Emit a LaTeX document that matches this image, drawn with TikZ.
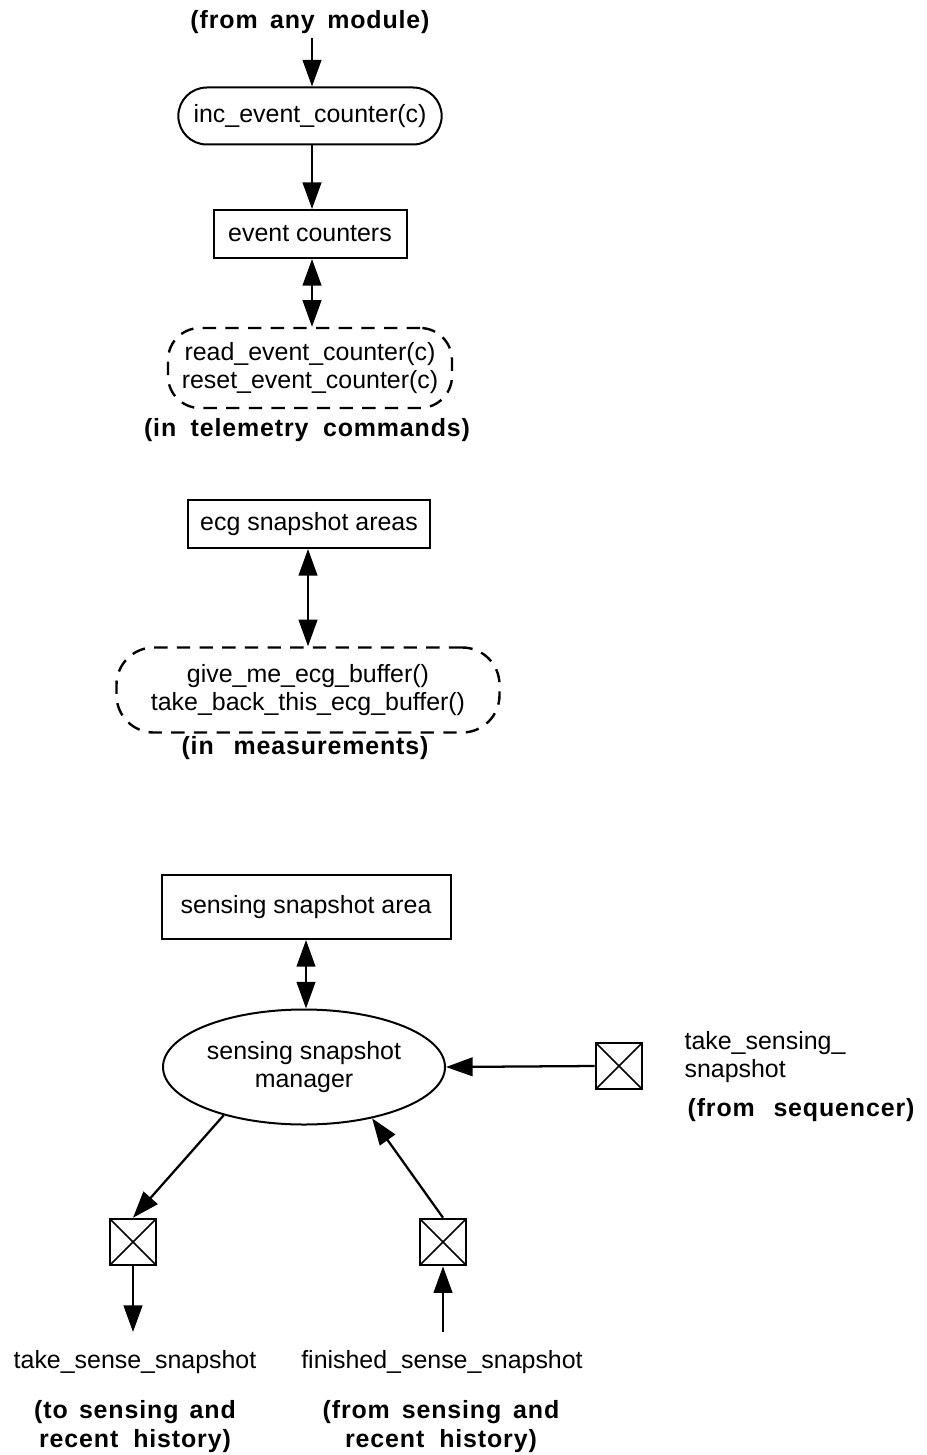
\documentclass[tikz,border=0pt]{standalone}
\usepackage{fontspec}
\setmainfont{Liberation Sans}
\newfontfamily\lblfont[LetterSpace=3.5]{Liberation Sans Bold}
\usetikzlibrary{arrows.meta,shapes.misc,shapes.geometric}
\newcommand\wsp[1]{\hspace{#1em}}
\begin{document}
\begin{tikzpicture}[x=0.75pt,y=-0.75pt,
  every node/.style={font=\fontsize{18.7pt}{21pt}\selectfont, inner sep=1pt},
  lbl/.style={font=\fontsize{18.7pt}{21.75pt}\selectfont\lblfont, align=center},
  txt/.style={align=center},
  store/.style={draw, line width=1.5pt, rectangle, minimum height=36pt},
  proc/.style={draw, line width=1.5pt, rounded rectangle, minimum width=199.5pt, minimum height=42.75pt},
  iface/.style={draw, line width=1.8pt, dash pattern=on 10pt off 7pt, rectangle, rounded corners=24pt, align=center},
  crossbox/.style={draw, line width=1.4pt, rectangle, minimum width=35pt, minimum height=35pt, inner sep=0pt,
    path picture={\draw[line width=1.1pt] (path picture bounding box.north west) -- (path picture bounding box.south east)
      (path picture bounding box.north east) -- (path picture bounding box.south west);}},
  flow/.style={line width=1.7pt, -{Triangle[length=20pt,width=14pt]}},
  bidir/.style={line width=1.7pt, {Triangle[length=20pt,width=14pt]}-{Triangle[length=20pt,width=14pt]}}
]
\useasboundingbox[fill=white] (0,0) rectangle (926,1455);

% event counter part
\node[lbl] (src) at (310,22) {(from\wsp{0.5}any\wsp{0.5}module)};
\node[proc] (inc) at (310,116) {inc\_event\_counter(c)};
\node[store, minimum width=144.75pt] (evt) at (310,234) {event counters};
\node[iface, minimum width=213pt, minimum height=60pt] (tele) at (310,368)
  {read\_event\_counter(c)\\reset\_event\_counter(c)};
\node[lbl] (telelbl) at (307,430) {(in\wsp{0.58}telemetry\wsp{0.58}commands)};

\coordinate (srcend) at (312,38);
\draw[flow] (srcend) -- (inc.north -| srcend);
\draw[flow] (inc.south -| srcend) -- (evt.north -| srcend);
\draw[bidir] (evt.south -| srcend) -- (tele.north -| srcend);

% ecg snapshot part
\node[store, minimum width=181.5pt] (ecg) at (309,524) {ecg snapshot areas};
\node[iface, minimum width=287.25pt, minimum height=63.75pt, rounded corners=28pt] (meas) at (308,690)
  {give\_me\_ecg\_buffer()\\take\_back\_this\_ecg\_buffer()};
\node[lbl] (measlbl) at (305,748) {(in\wsp{0.8}measurements)};
\draw[bidir] (ecg.south -| meas.north) -- (meas.north);

% sensing snapshot part
\node[store, minimum width=216.75pt, minimum height=48pt] (sens) at (306,907) {sensing snapshot area};
\node[draw, line width=1.5pt, ellipse, minimum width=211.5pt, minimum height=86.25pt, inner sep=0pt, txt] (mgr) at (304,1067)
  {sensing snapshot\\manager};
\draw[bidir] (sens.south) -- (mgr.north -| sens.south);

\node[crossbox] (cb1) at (619,1066) {};
\node[crossbox] (cb2) at (133,1242) {};
\node[crossbox] (cb3) at (443,1242) {};

\draw[flow] (cb1.west) -- (mgr.east);
\draw[flow] (mgr.211) -- (cb2.north);
\draw[flow] (cb3.north) -- (mgr.323);

\coordinate (outend) at (133,1332);
\coordinate (instart) at (443,1332);
\draw[flow] (cb2.south) -- (outend);
\draw[flow] (instart) -- (cb3.south);

\node[anchor=west, align=left] (tssname) at (683,1057) {take\_sensing\_\\snapshot};
\node[lbl, anchor=west] (tsslbl) at (686,1110) {(from\wsp{0.75}sequencer)};

\node (tsname) at (135,1362) {take\_sense\_snapshot};
\node (fsname) at (442,1362) {finished\_sense\_snapshot};
\node[lbl] (tslbl) at (135,1427) {(to\wsp{0.45}sensing\wsp{0.45}and\\recent\wsp{0.6}history)};
\node[lbl] (fslbl) at (441,1427) {(from\wsp{0.48}sensing\wsp{0.48}and\\recent\wsp{0.6}history)};
\end{tikzpicture}
\end{document}
